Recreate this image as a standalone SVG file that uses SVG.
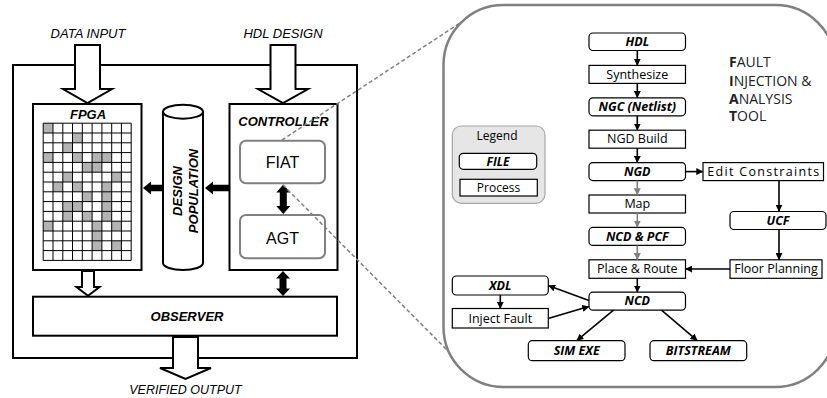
<svg xmlns="http://www.w3.org/2000/svg" width="827" height="398" viewBox="0 0 827 398">
<style>
.lbl{font-family:"Liberation Sans",Arial,sans-serif;fill:#000}
.it{font-style:italic;font-size:13px}
.bi{font-style:italic;font-weight:bold;font-size:13px}
.big{font-size:16px}
.blk{fill:#fff;stroke:#000;stroke-width:2}
.blkarrow{fill:#fff;stroke:#000;stroke-width:2;stroke-linejoin:miter}
.solid{fill:#000;stroke:none}
.gbox{fill:#fff;stroke:#808080;stroke-width:2}
.cell{fill:#b3b3b3}
.grid{fill:none;stroke:#000;stroke-width:1}
.dash{fill:none;stroke:#808080;stroke-width:1.5;stroke-dasharray:4,2.5}
.f{font-family:"Open Sans","Noto Sans",sans-serif;font-size:12.5px;fill:#000;text-anchor:middle}
.fb{font-weight:bold;font-style:italic}
.box{fill:#fff;stroke:#000;stroke-width:1.2}
.c{fill:none;stroke:#000;stroke-width:1.6}
.cg{fill:none;stroke:#808080;stroke-width:1.6}
.ttl{font-family:"Open Sans","Noto Sans",sans-serif;font-size:14px;fill:#222}
</style>
<defs>
<marker id="ah" viewBox="0 0 10 10" refX="9" refY="5" markerWidth="7" markerHeight="7" markerUnits="userSpaceOnUse" orient="auto"><path d="M0,0L10,5L0,10z" fill="#000"/></marker>
<marker id="ahg" viewBox="0 0 10 10" refX="9" refY="5" markerWidth="7" markerHeight="7" markerUnits="userSpaceOnUse" orient="auto"><path d="M0,0L10,5L0,10z" fill="#808080"/></marker>
</defs>

<g id="system">
<rect class="blk" x="13" y="65" width="344" height="293" fill="none"/>
</g>

<g id="fpga">
<rect class="blk" x="33" y="104" width="108.5" height="166"/>
<text class="lbl bi" x="88" y="119" text-anchor="middle">FPGA</text>
<g>
<rect class="cell" x="43.2" y="123.2" width="9.8" height="9.8"/>
<rect class="cell" x="72.5" y="133" width="9.8" height="9.8"/>
<rect class="cell" x="62.8" y="142.8" width="9.8" height="9.8"/>
<rect class="cell" x="43.2" y="152.6" width="9.8" height="9.8"/>
<rect class="cell" x="72.5" y="152.6" width="9.8" height="9.8"/>
<rect class="cell" x="92.1" y="152.6" width="9.8" height="9.8"/>
<rect class="cell" x="101.9" y="152.6" width="9.8" height="9.8"/>
<rect class="cell" x="82.3" y="162.4" width="9.8" height="9.8"/>
<rect class="cell" x="92.1" y="162.4" width="9.8" height="9.8"/>
<rect class="cell" x="62.8" y="172.2" width="9.8" height="9.8"/>
<rect class="cell" x="111.7" y="172.2" width="9.8" height="9.8"/>
<rect class="cell" x="53" y="182" width="9.8" height="9.8"/>
<rect class="cell" x="72.5" y="182" width="9.8" height="9.8"/>
<rect class="cell" x="101.9" y="182" width="9.8" height="9.8"/>
<rect class="cell" x="82.3" y="191.8" width="9.8" height="9.8"/>
<rect class="cell" x="101.9" y="191.8" width="9.8" height="9.8"/>
<rect class="cell" x="62.8" y="201.6" width="9.8" height="9.8"/>
<rect class="cell" x="72.5" y="201.6" width="9.8" height="9.8"/>
<rect class="cell" x="101.9" y="201.6" width="9.8" height="9.8"/>
<rect class="cell" x="62.8" y="211.4" width="9.8" height="9.8"/>
<rect class="cell" x="82.3" y="211.4" width="9.8" height="9.8"/>
<rect class="cell" x="101.9" y="211.4" width="9.8" height="9.8"/>
<rect class="cell" x="43.2" y="221.2" width="9.8" height="9.8"/>
<rect class="cell" x="92.1" y="221.2" width="9.8" height="9.8"/>
<rect class="cell" x="111.7" y="221.2" width="9.8" height="9.8"/>
<rect class="cell" x="92.1" y="231" width="9.8" height="9.8"/>
<rect class="cell" x="92.1" y="240.8" width="9.8" height="9.8"/>
<rect class="cell" x="111.7" y="240.8" width="9.8" height="9.8"/>
</g>
<path class="grid" d="M43.2,123.2V260.4M53,123.2V260.4M62.8,123.2V260.4M72.5,123.2V260.4M82.3,123.2V260.4M92.1,123.2V260.4M101.9,123.2V260.4M111.7,123.2V260.4M121.4,123.2V260.4M131.2,123.2V260.4M43.2,123.2H131.2M43.2,133H131.2M43.2,142.8H131.2M43.2,152.6H131.2M43.2,162.4H131.2M43.2,172.2H131.2M43.2,182H131.2M43.2,191.8H131.2M43.2,201.6H131.2M43.2,211.4H131.2M43.2,221.2H131.2M43.2,231H131.2M43.2,240.8H131.2M43.2,250.6H131.2M43.2,260.4H131.2"/>
</g>

<g id="design-population">
<path class="blk" d="M163,111.7L163,263A20,7 0 0 0 203,263L203,111.7"/>
<ellipse class="blk" cx="183" cy="111.7" rx="20" ry="7"/>
<text class="lbl bi" transform="translate(181.5,191) rotate(-90)" text-anchor="middle">DESIGN</text>
<text class="lbl bi" transform="translate(197.5,191) rotate(-90)" text-anchor="middle">POPULATION</text>
</g>

<g id="controller">
<rect class="blk" x="229.5" y="104" width="108" height="166"/>
<text class="lbl bi" x="283.5" y="126" text-anchor="middle">CONTROLLER</text>
</g>
<g id="fiat">
<rect class="gbox" x="240" y="140.7" width="85" height="42.6" rx="6"/>
<text class="lbl big" x="282.5" y="168.3" text-anchor="middle">FIAT</text>
</g>
<g id="agt">
<rect class="gbox" x="240" y="215" width="85" height="43.3" rx="6"/>
<text class="lbl big" x="282.5" y="244" text-anchor="middle">AGT</text>
</g>

<g id="observer">
<rect class="blk" x="33" y="296.7" width="304" height="39"/>
<text class="lbl bi" x="187" y="321" text-anchor="middle">OBSERVER</text>
</g>

<g id="left-connectors">
<polygon class="blkarrow" points="75,45 100,45 100,89 112,89 87.5,103 63,89 75,89"/>
<polygon class="blkarrow" points="270.5,45 295.5,45 295.5,89 308,89 283,103 258,89 270.5,89"/>
<polygon class="blkarrow" points="82,271 94,271 94,287 99.5,287 88,295.7 76.5,287 82,287"/>
<polygon class="blkarrow" points="173,337 198,337 198,368 211,368 185.5,379 160,368 173,368"/>
<polygon class="solid" points="143,188 151,181.5 151,184.7 163,184.7 163,191.3 151,191.3 151,194.5"/>
<polygon class="solid" points="205,188 213,181.5 213,184.7 229,184.7 229,191.3 213,191.3 213,194.5"/>
<polygon class="solid" points="283.3,184.5 290.3,192.5 286.8,192.5 286.8,206 290.3,206 283.3,214 276.3,206 279.8,206 279.8,192.5 276.3,192.5"/>
<polygon class="solid" points="283,271 290,278.5 286.5,278.5 286.5,288.5 290,288.5 283,296 276,288.5 279.5,288.5 279.5,278.5 276,278.5"/>
<path class="dash" d="M282,140L460.6,22.6"/>
<path class="dash" d="M283,185L448,351"/>
</g>
<g id="labels">
<text class="lbl it" x="88" y="38" text-anchor="middle">DATA INPUT</text>
<text class="lbl it" x="283" y="38" text-anchor="middle">HDL DESIGN</text>
<text class="lbl it" x="185.5" y="394" text-anchor="middle" style="font-size:12.5px">VERIFIED OUTPUT</text>
</g>

<g id="fiat-panel">
<rect x="443.5" y="5" width="392" height="382" rx="60" fill="#fff" stroke="#808080" stroke-width="2.5"/>
</g>

<g id="title">
<text class="ttl" x="729" y="67"><tspan font-weight="bold">F</tspan>AULT</text>
<text class="ttl" x="729" y="85.5"><tspan font-weight="bold">I</tspan>NJECTION &amp;</text>
<text class="ttl" x="729" y="103.5"><tspan font-weight="bold">A</tspan>NALYSIS</text>
<text class="ttl" x="729" y="121"><tspan font-weight="bold">T</tspan>OOL</text>
</g>

<g id="legend">
<rect x="452.3" y="126" width="92.7" height="77.3" rx="9" fill="#e6e6e6" stroke="#a6a6a6" stroke-width="1.2"/>
<text class="f" x="497" y="139.5" style="font-size:12px">Legend</text>
<rect class="box" x="459.3" y="153.3" width="77.4" height="16" rx="4"/>
<text class="f fb" x="498" y="165.5" style="font-size:12px">FILE</text>
<rect class="box" x="460" y="179.3" width="77.3" height="16.7"/>
<text class="f" x="498.5" y="192" style="font-size:12px">Process</text>
</g>

<g id="hdl"><rect class="box" x="589" y="33" width="96.5" height="17.5" rx="4"/><text class="f fb" x="637.3" y="46">HDL</text></g>
<g id="synthesize"><rect class="box" x="589" y="65.4" width="96.5" height="18"/><text class="f" x="637.3" y="78.6">Synthesize</text></g>
<g id="ngc"><rect class="box" x="589" y="97.8" width="96.5" height="18" rx="4"/><text class="f fb" x="637.3" y="111">NGC (Netlist)</text></g>
<g id="ngd-build"><rect class="box" x="589" y="130.2" width="96.5" height="18"/><text class="f" x="637.3" y="143.4">NGD Build</text></g>
<g id="ngd"><rect class="box" x="589" y="162.6" width="96.5" height="18" rx="4"/><text class="f fb" x="637.3" y="175.8">NGD</text></g>
<g id="map"><rect class="box" x="589" y="195" width="96.5" height="18"/><text class="f" x="637.3" y="208.2">Map</text></g>
<g id="ncd-pcf"><rect class="box" x="589" y="227.4" width="96.5" height="18" rx="4"/><text class="f fb" x="637.3" y="240.6">NCD &amp; PCF</text></g>
<g id="place-route"><rect class="box" x="589" y="259.8" width="96.5" height="18.5"/><text class="f" x="637.3" y="273.2">Place &amp; Route</text></g>
<g id="ncd"><rect class="box" x="589" y="292.2" width="96.5" height="18" rx="4"/><text class="f fb" x="637.3" y="305.4">NCD</text></g>
<g id="edit-constraints"><rect class="box" x="703" y="162.6" width="120.5" height="18"/><text class="f" x="763.2" y="175.8" textLength="112" lengthAdjust="spacing">Edit Constraints</text></g>
<g id="ucf"><rect class="box" x="730" y="211.5" width="96" height="18" rx="4"/><text class="f fb" x="778" y="224.7">UCF</text></g>
<g id="floor-planning"><rect class="box" x="730" y="259.8" width="92" height="18.5"/><text class="f" x="776" y="273.2">Floor Planning</text></g>
<g id="xdl"><rect class="box" x="452.3" y="276" width="96" height="19" rx="4"/><text class="f fb" x="500.3" y="289.7">XDL</text></g>
<g id="inject-fault"><rect class="box" x="452.3" y="308.5" width="96" height="19.5"/><text class="f" x="500.3" y="322.5">Inject Fault</text></g>
<g id="sim-exe"><rect class="box" x="528.3" y="340.7" width="96.7" height="20" rx="4"/><text class="f fb" x="576.7" y="355">SIM EXE</text></g>
<g id="bitstream"><rect class="box" x="650" y="340.7" width="96.7" height="20" rx="4"/><text class="f fb" x="698.3" y="355">BITSTREAM</text></g>

<g id="flow-connectors">
<path class="c" d="M637.3,50.5V65" marker-end="url(#ah)"/>
<path class="c" d="M637.3,83.4V97.4" marker-end="url(#ah)"/>
<path class="c" d="M637.3,115.8V129.8" marker-end="url(#ah)"/>
<path class="c" d="M637.3,148.2V162.2" marker-end="url(#ah)"/>
<path class="cg" d="M637.3,180.6V194.6" marker-end="url(#ahg)"/>
<path class="cg" d="M637.3,213V227" marker-end="url(#ahg)"/>
<path class="cg" d="M637.3,245.4V259.4" marker-end="url(#ahg)"/>
<path class="c" d="M637.3,278.3V291.8" marker-end="url(#ah)"/>
<path class="c" d="M685.5,171.6H702.6" marker-end="url(#ah)"/>
<path class="c" d="M779,180.6V211.1" marker-end="url(#ah)"/>
<path class="c" d="M779,229.5V259.4" marker-end="url(#ah)"/>
<path class="c" d="M730,269H685.9" marker-end="url(#ah)"/>
<path class="c" d="M500.3,295V308.1" marker-end="url(#ah)"/>
<path class="c" d="M589,300.5L548.8,285.8" marker-end="url(#ah)"/>
<path class="c" d="M549,318.3L588.6,306.6" marker-end="url(#ah)"/>
<path class="c" d="M613.5,310.2L577,340.3" marker-end="url(#ah)"/>
<path class="c" d="M661.5,310.2L697,340.3" marker-end="url(#ah)"/>
</g>
</svg>
